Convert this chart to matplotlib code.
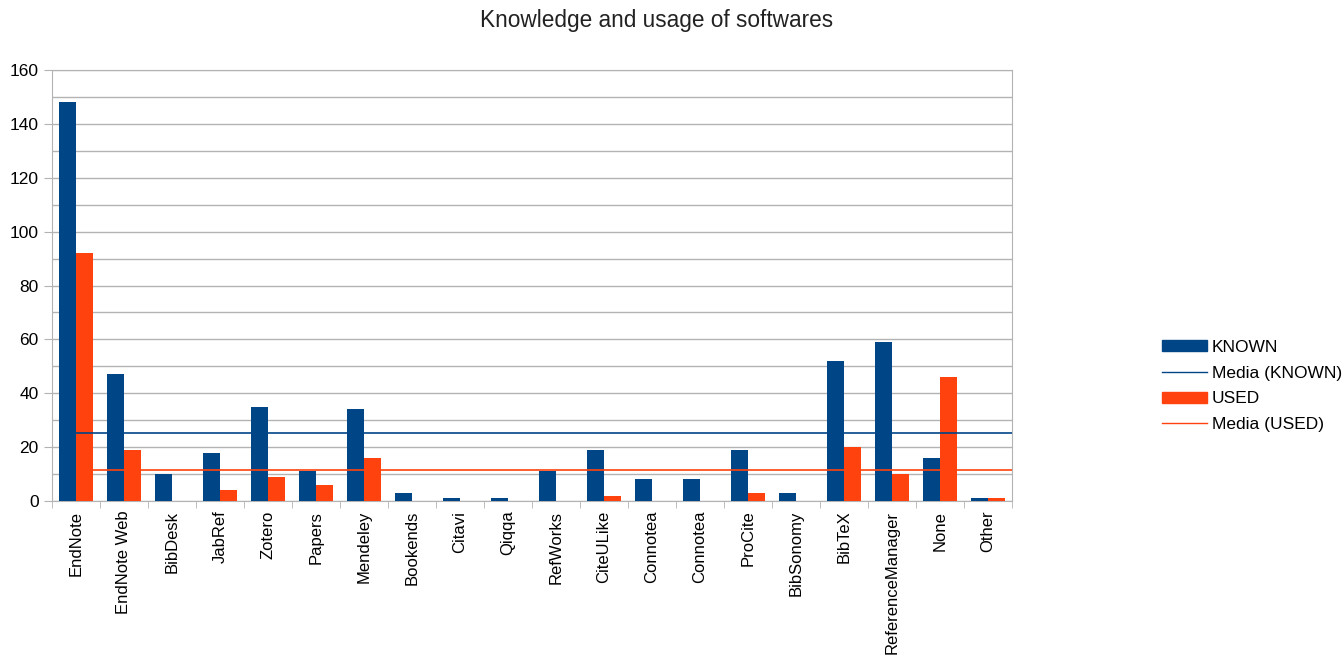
import numpy as np
import matplotlib
matplotlib.use('Agg')
import matplotlib.pyplot as plt
from matplotlib.lines import Line2D
from matplotlib.patches import Patch

plt.rcParams['font.family'] = ['Liberation Sans', 'DejaVu Sans']

software = ['EndNote', 'EndNote Web', 'BibDesk', 'JabRef', 'Zotero', 'Papers',
            'Mendeley', 'Bookends', 'Citavi', 'Qiqqa', 'RefWorks', 'CiteULike',
            'Connotea', 'Connotea', 'ProCite', 'BibSonomy', 'BibTeX',
            'ReferenceManager', 'None', 'Other']
known = [148, 47, 10, 18, 35, 11, 34, 3, 1, 1, 11, 19, 8, 8, 19, 3, 52, 59, 16, 1]
used = [92, 19, 0, 4, 9, 6, 16, 0, 0, 0, 0, 2, 0, 0, 3, 0, 20, 10, 46, 1]

c_known = '#004586'
c_used = '#ff420e'

fig = plt.figure(figsize=(13.42, 6.56), dpi=100)
ax = fig.add_axes([52/1342, 1 - 501/656, 960/1342, 431/656])

x = np.arange(len(software))
w = 0.355
ax.bar(x - w/2, known, w, color=c_known, zorder=3)
ax.bar(x + w/2, used, w, color=c_used, zorder=3)

n = len(software)
ax.hlines(np.mean(known), x[0], n - 0.5, color=c_known, lw=1.2, zorder=4)
ax.hlines(np.mean(used), x[0], n - 0.5, color=c_used, lw=1.2, zorder=4)

ax.set_xlim(-0.5, n - 0.5)
ax.set_ylim(0, 160)
ax.set_yticks(range(0, 161, 20))
ax.set_yticks(range(10, 160, 20), minor=True)
ax.grid(axis='y', which='both', color='#b3b3b3', lw=1, zorder=0)

ax.set_xticks(x)
ax.set_xticklabels(software, rotation=90, fontsize=12)
ax.set_xticks(np.arange(-0.5, n, 1), minor=True)
ax.tick_params(axis='x', which='major', length=0, pad=7)
ax.tick_params(axis='x', which='minor', length=5, color='#b3b3b3')
ax.tick_params(axis='y', which='major', length=6, color='#b3b3b3', labelsize=12.5)
ax.tick_params(axis='y', which='minor', length=0)
for s in ax.spines.values():
    s.set_color('#b3b3b3')

fig.text(657/1342, 1 - 21/656, 'Knowledge and usage of softwares', fontsize=16.3,
         ha='center', va='center', color='#222222')

handles = [Patch(color=c_known), Line2D([], [], color=c_known, lw=1),
           Patch(color=c_used), Line2D([], [], color=c_used, lw=1)]
labels = ['KNOWN', 'Media (KNOWN)', 'USED', 'Media (USED)']
fig.legend(handles, labels, loc='center left', bbox_to_anchor=(1153/1342, 1 - 386/656),
           frameon=False, fontsize=12.5, handlelength=2.6, handleheight=0.6,
           labelspacing=0.62, handletextpad=0.3, borderpad=0)

fig.savefig('out.png', dpi=100)
